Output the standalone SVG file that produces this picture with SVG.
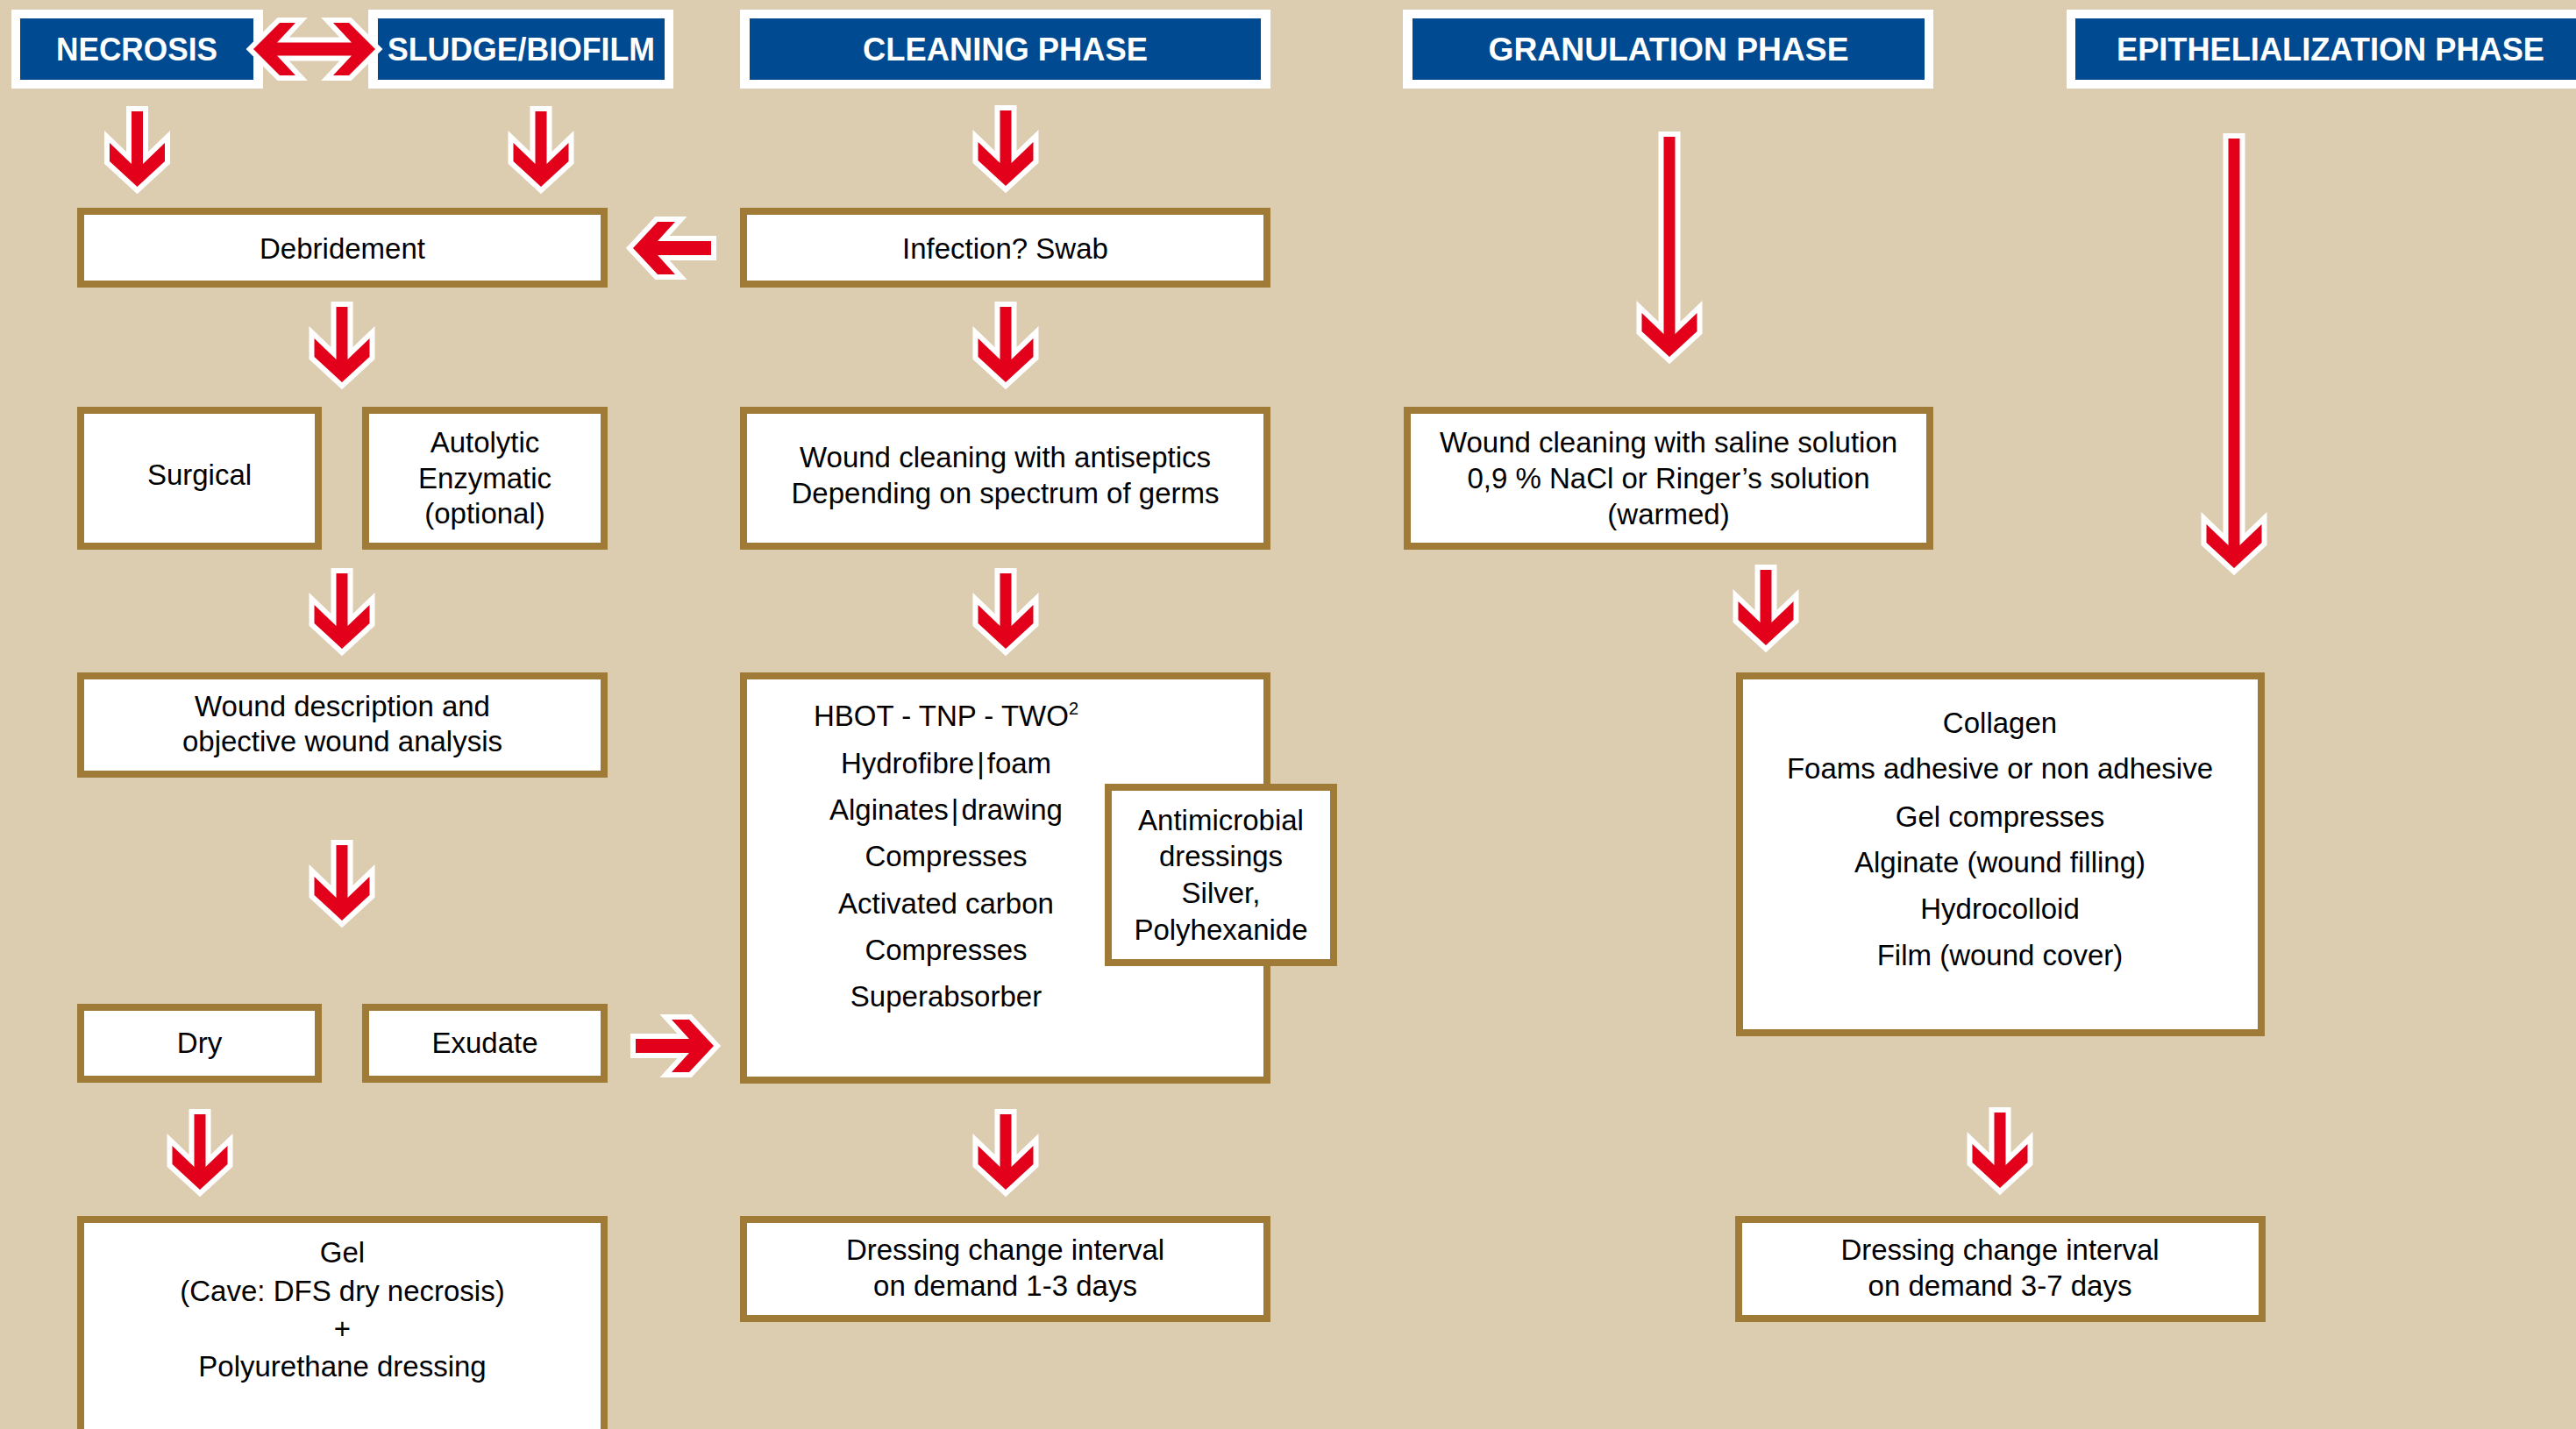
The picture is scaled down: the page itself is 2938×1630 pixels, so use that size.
<svg xmlns="http://www.w3.org/2000/svg" xmlns:xlink="http://www.w3.org/1999/xlink" width="2938" height="1630" viewBox="0 0 2938 1630">
<style>
.bg{fill:#dccdb1}
.hf{fill:#ffffff}
.hb{fill:#004a91}
.box{fill:#ffffff;stroke:#a07a37;stroke-width:8}
.arr{fill:#e2001a;stroke:#ffffff;stroke-width:12;paint-order:stroke;stroke-linejoin:miter;stroke-miterlimit:10}
.h{font-family:"Liberation Sans",Arial,sans-serif;font-weight:bold;font-size:36px;fill:#ffffff;text-anchor:middle}
.t{font-family:"Liberation Sans",Arial,sans-serif;font-size:33px;fill:#000000;text-anchor:middle}
</style>
<defs>
<polygon id="aDown" class="arr" points="-6.5,0 6.5,0 6.5,60 31.5,36 31.5,57 0,86 -31.5,57 -31.5,36 -6.5,60"/>
<polygon id="aLeft" class="arr" points="0,0 28,-30 48,-30 28,-8 89,-8 89,8 28,8 48,30 28,30"/>
</defs>
<rect class="bg" x="0" y="0" width="2938" height="1630"/>

<g id="hdr-necrosis">
<rect class="hf" x="13" y="11" width="287" height="90"/>
<rect class="hb" x="23" y="21" width="266" height="70"/>
<text class="h" x="156" y="69" textLength="184" lengthAdjust="spacingAndGlyphs">NECROSIS</text>
</g>
<g id="hdr-sludge">
<rect class="hf" x="420" y="11" width="348" height="90"/>
<rect class="hb" x="431" y="21" width="327" height="70"/>
<text class="h" x="594.5" y="69" textLength="305" lengthAdjust="spacingAndGlyphs">SLUDGE/BIOFILM</text>
</g>
<g id="hdr-cleaning">
<rect class="hf" x="844" y="11" width="605" height="90"/>
<rect class="hb" x="855" y="21" width="583" height="70"/>
<text class="h" x="1146.5" y="69" textLength="325" lengthAdjust="spacingAndGlyphs">CLEANING PHASE</text>
</g>
<g id="hdr-granulation">
<rect class="hf" x="1600" y="11" width="605" height="90"/>
<rect class="hb" x="1611" y="21" width="584" height="70"/>
<text class="h" x="1903" y="69" textLength="411" lengthAdjust="spacingAndGlyphs">GRANULATION PHASE</text>
</g>
<g id="hdr-epithelialization">
<rect class="hf" x="2357" y="11" width="610" height="90"/>
<rect class="hb" x="2367" y="21" width="590" height="70"/>
<text class="h" x="2658" y="69" textLength="488" lengthAdjust="spacingAndGlyphs">EPITHELIALIZATION PHASE</text>
</g>

<g id="n-debridement">
<rect class="box" x="92" y="241" width="597" height="83"/>
<text class="t" x="390.5" y="295">Debridement</text>
</g>
<g id="n-infection">
<rect class="box" x="848" y="241" width="597" height="83"/>
<text class="t" x="1146.5" y="295">Infection? Swab</text>
</g>
<g id="n-surgical">
<rect class="box" x="92" y="468" width="271" height="155"/>
<text class="t" x="227.5" y="553">Surgical</text>
</g>
<g id="n-autolytic">
<rect class="box" x="417" y="468" width="272" height="155"/>
<text class="t" x="553" y="516">Autolytic</text>
<text class="t" x="553" y="557">Enzymatic</text>
<text class="t" x="553" y="597">(optional)</text>
</g>
<g id="n-antiseptics">
<rect class="box" x="848" y="468" width="597" height="155"/>
<text class="t" x="1146.5" y="533">Wound cleaning with antiseptics</text>
<text class="t" x="1146.5" y="574">Depending on spectrum of germs</text>
</g>
<g id="n-saline">
<rect class="box" x="1605" y="468" width="596" height="155"/>
<text class="t" x="1903" y="516">Wound cleaning with saline solution</text>
<text class="t" x="1903" y="557">0,9 % NaCl or Ringer’s solution</text>
<text class="t" x="1903" y="598">(warmed)</text>
</g>
<g id="n-wound-description">
<rect class="box" x="92" y="771" width="597" height="112"/>
<text class="t" x="390.5" y="817">Wound description and</text>
<text class="t" x="390.5" y="857">objective wound analysis</text>
</g>
<g id="n-cleaning-dressings">
<rect class="box" x="848" y="771" width="597" height="461"/>
<text class="t" x="1079" y="828">HBOT - TNP - TWO<tspan font-size="20" dy="-13">2</tspan></text>
<text class="t" x="1079" y="882">Hydrofibre<tspan dx="3">|</tspan><tspan dx="3">foam</tspan></text>
<text class="t" x="1079" y="935">Alginates<tspan dx="3">|</tspan><tspan dx="3">drawing</tspan></text>
<text class="t" x="1079" y="988">Compresses</text>
<text class="t" x="1079" y="1042">Activated carbon</text>
<text class="t" x="1079" y="1095">Compresses</text>
<text class="t" x="1079" y="1148">Superabsorber</text>
</g>
<g id="n-antimicrobial">
<rect class="box" x="1264" y="898" width="257" height="200"/>
<text class="t" x="1392.5" y="947">Antimicrobial</text>
<text class="t" x="1392.5" y="988">dressings</text>
<text class="t" x="1392.5" y="1030">Silver,</text>
<text class="t" x="1392.5" y="1072">Polyhexanide</text>
</g>
<g id="n-granulation-dressings">
<rect class="box" x="1984" y="771" width="595" height="407"/>
<text class="t" x="2281" y="836">Collagen</text>
<text class="t" x="2281" y="888">Foams adhesive or non adhesive</text>
<text class="t" x="2281" y="943">Gel compresses</text>
<text class="t" x="2281" y="995">Alginate (wound filling)</text>
<text class="t" x="2281" y="1048">Hydrocolloid</text>
<text class="t" x="2281" y="1101">Film (wound cover)</text>
</g>
<g id="n-dry">
<rect class="box" x="92" y="1149" width="271" height="82"/>
<text class="t" x="227.5" y="1201">Dry</text>
</g>
<g id="n-exudate">
<rect class="box" x="417" y="1149" width="272" height="82"/>
<text class="t" x="553" y="1201">Exudate</text>
</g>
<g id="n-gel">
<rect class="box" x="92" y="1391" width="597" height="300"/>
<text class="t" x="390.5" y="1440">Gel</text>
<text class="t" x="390.5" y="1484">(Cave: DFS dry necrosis)</text>
<text class="t" x="390.5" y="1527">+</text>
<text class="t" x="390.5" y="1570">Polyurethane dressing</text>
</g>
<g id="n-interval-cleaning">
<rect class="box" x="848" y="1391" width="597" height="113"/>
<text class="t" x="1146.5" y="1437">Dressing change interval</text>
<text class="t" x="1146.5" y="1478">on demand 1-3 days</text>
</g>
<g id="n-interval-granulation">
<rect class="box" x="1983" y="1391" width="597" height="113"/>
<text class="t" x="2281" y="1437">Dressing change interval</text>
<text class="t" x="2281" y="1478">on demand 3-7 days</text>
</g>

<g id="connectors">
<polygon class="arr" points="289,56 319,26 337,26 316,48.5 401,48.5 380,26 398,26 428,56 398,86 380,86 401,63.5 316,63.5 337,86 319,86"/>
<use xlink:href="#aDown" href="#aDown" x="156.5" y="127"/>
<use xlink:href="#aDown" href="#aDown" x="617" y="127"/>
<use xlink:href="#aDown" href="#aDown" x="1147" y="126"/>
<use xlink:href="#aDown" href="#aDown" x="390" y="350"/>
<use xlink:href="#aDown" href="#aDown" x="1147" y="350"/>
<use xlink:href="#aDown" href="#aDown" x="390" y="654"/>
<use xlink:href="#aDown" href="#aDown" x="1147" y="654"/>
<use xlink:href="#aDown" href="#aDown" x="2014" y="650"/>
<use xlink:href="#aDown" href="#aDown" x="390" y="964"/>
<use xlink:href="#aDown" href="#aDown" x="228" y="1271"/>
<use xlink:href="#aDown" href="#aDown" x="1147" y="1271"/>
<use xlink:href="#aDown" href="#aDown" x="2281" y="1269"/>
<polygon class="arr" transform="translate(1904,156)" points="-6.5,0 6.5,0 6.5,225 31.5,201 31.5,222 0,251 -31.5,222 -31.5,201 -6.5,225"/>
<polygon class="arr" transform="translate(2548,158)" points="-6.5,0 6.5,0 6.5,464 31.5,440 31.5,461 0,490 -31.5,461 -31.5,440 -6.5,464"/>
<use xlink:href="#aLeft" href="#aLeft" x="722" y="283"/>
<use xlink:href="#aLeft" href="#aLeft" transform="translate(814,1193) scale(-1,1)"/>
</g>
</svg>
